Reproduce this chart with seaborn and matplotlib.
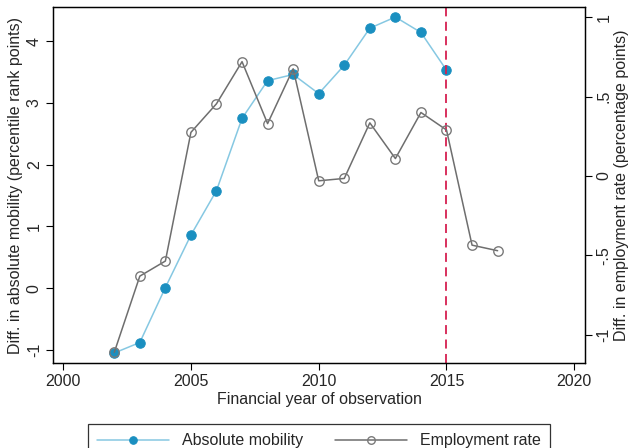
import matplotlib
matplotlib.use("Agg")
import matplotlib.pyplot as plt
import seaborn as sns
import pandas as pd

# Data
mob_years = [2002, 2003, 2004, 2005, 2006, 2007, 2008, 2009, 2010, 2011, 2012, 2013, 2014, 2015]
mobility = [-1.05, -0.88, 0.01, 0.86, 1.58, 2.75, 3.36, 3.46, 3.15, 3.61, 4.21, 4.39, 4.14, 3.53]

emp_years = [2002, 2003, 2004, 2005, 2006, 2007, 2008, 2009, 2010, 2011, 2012, 2013, 2014, 2015, 2016, 2017]
employment = [-1.11, -0.63, -0.535, 0.275, 0.455, 0.72, 0.33, 0.675, -0.03, -0.015, 0.335, 0.11, 0.40, 0.29, -0.435, -0.47]

left_ticks = [-1, 0, 1, 2, 3, 4]
right_ticks = [-1, -0.5, 0, 0.5, 1]
right_labels = ["-1", "-.5", "0", ".5", "1"]
x_ticks = [2000, 2005, 2010, 2015, 2020]

sns.set_style("white")
plt.rcParams['font.family'] = ['Liberation Sans', 'DejaVu Sans']

mob = pd.DataFrame({"year": mob_years, "value": mobility})
emp = pd.DataFrame({"year": emp_years, "value": employment})

fig = plt.figure(figsize=(6.3, 4.48), dpi=100)
ax = fig.add_axes([0.084, 0.19, 0.845, 0.794])
ax2 = ax.twinx()

sns.lineplot(data=mob, x="year", y="value", ax=ax, color="#86c8e2", lw=1.1,
             marker="o", markersize=6.8, markerfacecolor="#1a8fc0", markeredgecolor="#1a8fc0",
             label="Absolute mobility", legend=False)
sns.lineplot(data=emp, x="year", y="value", ax=ax2, color="#6e6e6e", lw=1.1,
             marker="o", markersize=6.8, markerfacecolor="none", markeredgecolor="#7a7a7a",
             markeredgewidth=1.0, label="Employment rate", legend=False)

ax.axvline(2015, color="#d62050", ls=(0, (5, 3)), lw=1.3)

ax.set_xlim(1999.6, 2020.43)
ax.set_ylim(-1.21, 4.55)
ax2.set_ylim(-1.176, 1.063)

ax.set_xticks(x_ticks)
ax.set_yticks(left_ticks)
ax.set_yticklabels([str(t) for t in left_ticks], rotation=90, va="center")
ax2.set_yticks(right_ticks)
ax2.set_yticklabels(right_labels, rotation=90, va="center")

for a in (ax, ax2):
    a.tick_params(labelsize=11.5, length=5, width=0.8, color="black", pad=3)
    for s in a.spines.values():
        s.set_color("black")
        s.set_linewidth(0.9)
ax.tick_params(axis="both", bottom=True, left=True)
ax2.tick_params(axis="y", right=True)

ax.set_xlabel("Financial year of observation", fontsize=11.5, labelpad=2)
ax.set_ylabel("Diff. in absolute mobility (percentile rank points)", fontsize=11.5, labelpad=3)
ax2.set_ylabel("Diff. in employment rate (percentage points)", fontsize=11.5, labelpad=2)

h1, l1 = ax.get_legend_handles_labels()
h2, l2 = ax2.get_legend_handles_labels()
leg = fig.legend(h1 + h2, l1 + l2, loc="lower center", bbox_to_anchor=(0.506, -0.04),
                 ncol=2, fontsize=11.5, frameon=True, fancybox=False, handlelength=4.5,
                 columnspacing=2.0, borderpad=0.6, markerscale=0.8)
leg.get_frame().set_edgecolor("black")
leg.get_frame().set_linewidth(0.9)

fig.savefig("out.png", dpi=100)
